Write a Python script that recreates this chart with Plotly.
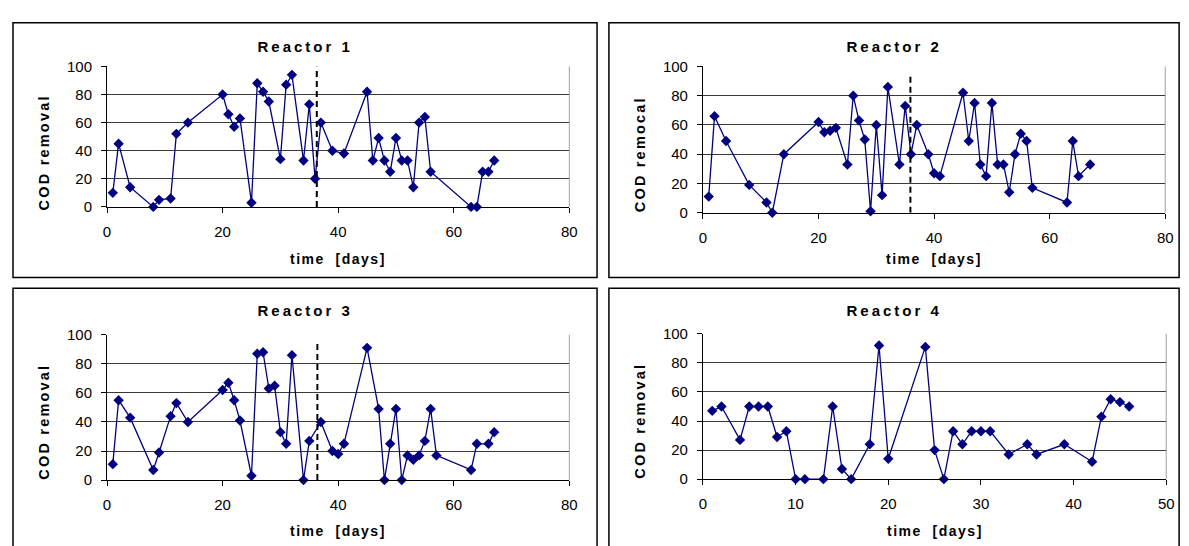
import plotly.graph_objects as go

W, H = 1189, 546

# ---------------- data ----------------
titles = ["Reactor 1", "Reactor 2", "Reactor 3", "Reactor 4"]
ylabels = ["COD removal", "COD remocal", "COD removal", "COD removal"]
xlabel = "time  [days]"

r1_days = [1, 2, 4, 8, 9, 11, 12, 14, 20, 21, 22, 23, 25, 26, 27, 28, 30, 31, 32, 34, 35, 36, 37, 39, 41,
           45, 46, 47, 48, 49, 50, 51, 52, 53, 54, 55, 56, 63, 64, 65, 66, 67]
r1_cod = [10, 45, 14, 0, 5, 6, 52, 60, 80, 66, 57, 63, 3, 88, 82, 75, 34, 87, 94, 33, 73, 20, 60, 40, 38,
          82, 33, 49, 33, 25, 49, 33, 33, 14, 60, 64, 25, 0, 0, 25, 25, 33]

r2_days = [1, 2, 4, 8, 11, 12, 14, 20, 21, 22, 23, 25, 26, 27, 28, 29, 30, 31, 32, 34, 35, 36, 37, 39, 40,
           41, 45, 46, 47, 48, 49, 50, 51, 52, 53, 54, 55, 56, 57, 63, 64, 65, 67]
r2_cod = [11, 66, 49, 19, 7, 0, 40, 62, 55, 56, 58, 33, 80, 63, 50, 1, 60, 12, 86, 33, 73, 40, 60, 40, 27,
          25, 82, 49, 75, 33, 25, 75, 33, 33, 14, 40, 54, 49, 17, 7, 49, 25, 33]

r3_days = [1, 2, 4, 8, 9, 11, 12, 14, 20, 21, 22, 23, 25, 26, 27, 28, 29, 30, 31, 32, 34, 35, 37, 39, 40,
           41, 45, 47, 48, 49, 50, 51, 52, 53, 54, 55, 56, 57, 63, 64, 66, 67]
r3_cod = [11, 55, 43, 7, 19, 44, 53, 40, 62, 67, 55, 41, 3, 87, 88, 63, 65, 33, 25, 86, 0, 27, 40, 20, 18,
          25, 91, 49, 0, 25, 49, 0, 17, 14, 17, 27, 49, 17, 7, 25, 25, 33]

r4_days = [1, 2, 4, 5, 6, 7, 8, 9, 10, 11, 13, 14, 15, 16, 18, 19, 20, 24, 25, 26, 27, 28, 29, 30, 31,
           33, 35, 36, 39, 42, 43, 44, 45, 46]
r4_cod = [47, 50, 27, 50, 50, 50, 29, 33, 0, 0, 0, 50, 7, 0, 24, 92, 14, 91, 20, 0, 33, 24, 33, 33, 33,
          17, 24, 17, 24, 12, 43, 55, 53, 50]

x_max = [80, 80, 80, 50]
x_dtick = [20, 20, 20, 10]
y_ticks = [0, 20, 40, 60, 80, 100]

# dashed marker lines (day, top value) for reactors 1-3
dash_day = [36.3, 35.9, 36.4]
dash_top = [100, 95, 96]

series = [(r1_days, r1_cod), (r2_days, r2_cod), (r3_days, r3_cod), (r4_days, r4_cod)]

# ---------------- layout geometry (page pixels) ----------------
plot_px = [(104, 571, 59, 204), (706, 1173, 59, 210), (104, 571, 336, 486), (706, 1174, 335, 485)]
box_px = [(9, 599, 14, 277), (611, 1187, 14, 277), (9, 599, 288, 570), (611, 1187, 288, 570)]
title_y = [38, 38, 311, 311]
xlab_y = [258, 258, 539, 539]
ylab_y = [148, 150, 426, 425]

OFF = 8  # page body margin

def px(x):
    return (x - OFF) / W

def py(y):
    return 1 - (y - OFF) / H

NAVY = "#000080"
FONT = "Liberation Sans, Arial, sans-serif"

fig = go.Figure()
shapes = []
annotations = []

for i, ((days, cod), (xl, xr, yt, yb)) in enumerate(zip(series, plot_px)):
    n = "" if i == 0 else str(i + 1)
    xa, ya = "x" + n, "y" + n
    fig.add_trace(go.Scatter(
        x=days, y=cod, mode="lines+markers", xaxis=xa, yaxis=ya,
        line=dict(color=NAVY, width=1.3),
        marker=dict(symbol="diamond", size=8, color=NAVY),
        showlegend=False, hoverinfo="x+y", cliponaxis=False))
    if i < 3:
        fig.add_trace(go.Scatter(
            x=[dash_day[i], dash_day[i]], y=[0, dash_top[i]], mode="lines",
            xaxis=xa, yaxis=ya, line=dict(color="black", width=2, dash="6px,4px"),
            showlegend=False, hoverinfo="skip"))

    axis_common = dict(showline=True, linecolor="black", linewidth=1,
                       ticks="outside", ticklen=5, tickcolor="black",
                       tickfont=dict(family=FONT, size=15, color="black"),
                       zeroline=False, fixedrange=True)
    fig.update_layout(**{
        ("xaxis" + n): dict(domain=[px(xl), px(xr)], anchor=ya, range=[0, x_max[i]],
                            tickmode="linear", tick0=0, dtick=x_dtick[i], showgrid=False,
                            ticklabelstandoff=6, **axis_common),
        ("yaxis" + n): dict(domain=[py(yb), py(yt)], anchor=xa, range=[0, 100],
                            tickvals=y_ticks, showgrid=True, gridcolor="#3a3a3a", gridwidth=1,
                            ticklabelstandoff=6, **axis_common),
    })
    shapes.append(dict(type="line", xref="paper", yref="paper",
                       x0=px(xr), x1=px(xr), y0=py(yb), y1=py(yt),
                       line=dict(color="#a0a0a0", width=1), layer="below"))
    bx0, bx1, by0, by1 = box_px[i]
    shapes.append(dict(type="rect", xref="paper", yref="paper",
                       x0=px(bx0), x1=px(bx1), y0=py(by1), y1=py(by0),
                       line=dict(color="black", width=1.5)))
    annotations.append(dict(text="<b>" + titles[i] + "</b>", x=px((bx0 + bx1) / 2), y=py(title_y[i]),
                            xref="paper", yref="paper", showarrow=False,
                            font=dict(family=FONT, size=15, color="black"),
                            xanchor="center", yanchor="middle"))
    annotations.append(dict(text="<b>" + ylabels[i] + "</b>", x=px(xl - 64), y=py(ylab_y[i]),
                            xref="paper", yref="paper", showarrow=False, textangle=-90,
                            font=dict(family=FONT, size=14.5, color="black"),
                            xanchor="center", yanchor="middle"))
    annotations.append(dict(text="<b>" + xlabel + "</b>", x=px((xl + xr) / 2), y=py(xlab_y[i]),
                            xref="paper", yref="paper", showarrow=False,
                            font=dict(family=FONT, size=14, color="black"),
                            xanchor="center", yanchor="middle"))

fig.update_layout(
    width=W, height=H, margin=dict(l=0, r=0, t=0, b=0),
    paper_bgcolor="white", plot_bgcolor="white",
    shapes=shapes, annotations=annotations,
    font=dict(family=FONT, color="black"),
)

spacing_js = """
var gd = document.getElementById('{plot_id}');
gd.querySelectorAll('.annotation-text').forEach(function(t){
  var s = t.textContent || '';
  if (s.indexOf('Reactor') === 0) { t.style.letterSpacing = '3px'; }
  else if (s.indexOf('COD') === 0) { t.style.letterSpacing = '2.2px'; }
  else { t.style.letterSpacing = '1.5px'; }
});
"""

fig.write_html("out.html", post_script=spacing_js)
